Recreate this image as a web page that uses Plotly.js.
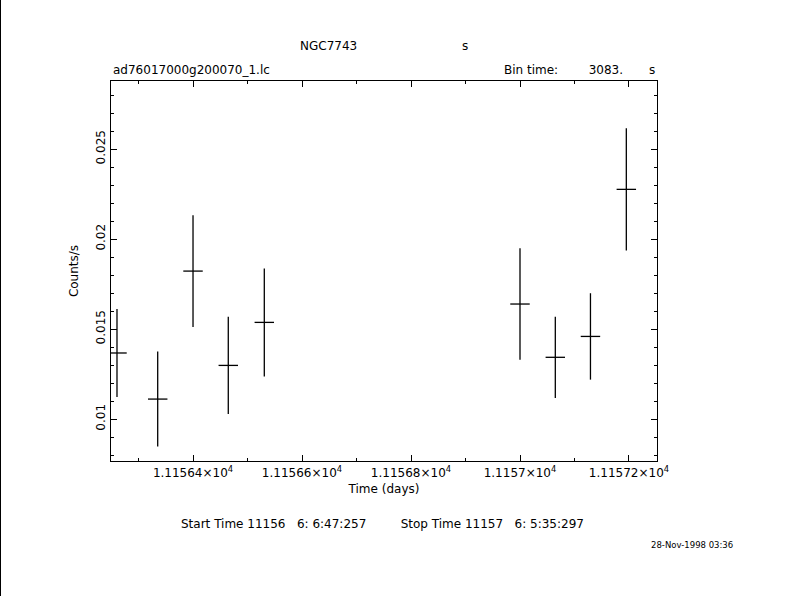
<!DOCTYPE html>
<html>
<head>
<meta charset="utf-8">
<script src="https://cdn.plot.ly/plotly-3.0.1.min.js"></script>
<style>
  html, body { margin: 0; padding: 0; background: #fff; }
  #wrap { position: relative; width: 790px; height: 596px; }
  #chart { width: 790px; height: 596px; }
  #edge { position: absolute; left: 0; top: 0; width: 1px; height: 596px; background: #000; }
</style>
</head>
<body>
<div id="wrap"><div id="chart"></div><div id="edge"></div></div>
<script>
// Light curve values (time in days, rate in counts/s)
const timeDays = [11156.2605, 11156.3352, 11156.4000, 11156.4647, 11156.5308, 11157.0000, 11157.0648, 11157.1293, 11157.1951];
const rate     = [0.01367, 0.01111, 0.01822, 0.01298, 0.01537, 0.01639, 0.01343, 0.01459, 0.02276];
const rateErr  = [0.00245, 0.00264, 0.00310, 0.00270, 0.00300, 0.00310, 0.00226, 0.00240, 0.00340];
const binTimeSec = 3083;
const timeHalfBin = binTimeSec / 86400 / 2;

const xTickVals = [11156.4, 11156.6, 11156.8, 11157.0, 11157.2];
const xTickText = ['1.11564×10<sup>4</sup>', '1.11566×10<sup>4</sup>', '1.11568×10<sup>4</sup>', '1.1157×10<sup>4</sup>', '1.11572×10<sup>4</sup>'];
const yTickVals = [0.01, 0.015, 0.02, 0.025];
const yTickText = ['0.01', '0.015', '0.02', '0.025'];

const font = { family: 'DejaVu Sans, Liberation Sans, sans-serif', size: 12, color: '#000' };
const sp = n => '&nbsp;'.repeat(n);

const trace = {
  x: timeDays,
  y: rate,
  type: 'scatter',
  mode: 'markers',
  marker: { size: 0.1, color: '#000' },
  error_y: { type: 'data', array: rateErr, visible: true, color: '#000', thickness: 1.3, width: 0 },
  error_x: { type: 'constant', value: timeHalfBin, visible: true, color: '#000', thickness: 1.3, width: 0 },
  hoverinfo: 'skip'
};

const axisCommon = {
  showgrid: false, zeroline: false, showline: true, linecolor: '#000', linewidth: 1.3,
  mirror: 'allticks', ticks: 'inside', ticklen: 6, tickwidth: 1, tickcolor: '#000',
  tickfont: font
};

const layout = {
  width: 790, height: 596,
  margin: { l: 111, r: 133, t: 81, b: 135 },
  paper_bgcolor: '#fff', plot_bgcolor: '#fff',
  showlegend: false,
  font: font,
  xaxis: Object.assign({}, axisCommon, {
    range: [11156.2495, 11157.2514],
    tickmode: 'array', tickvals: xTickVals, ticktext: xTickText,
    minor: { ticks: 'inside', dtick: 0.1, tick0: 11156.4, ticklen: 3, tickcolor: '#000', tickwidth: 1 },
    title: { text: 'Time (days)', font: font, standoff: 6 }
  }),
  yaxis: Object.assign({}, axisCommon, {
    range: [0.00767, 0.02878],
    tickmode: 'array', tickvals: yTickVals, ticktext: yTickText, tickangle: -90,
    minor: { ticks: 'inside', dtick: 0.001, tick0: 0.01, ticklen: 3, tickcolor: '#000', tickwidth: 1 },
    title: { text: 'Counts/s', font: font, standoff: 12 }
  }),
  annotations: [
    { xref: 'paper', yref: 'paper', x: 0.398, y: 1, yshift: 26, xanchor: 'center', yanchor: 'bottom', text: 'NGC7743', showarrow: false, font: font },
    { xref: 'paper', yref: 'paper', x: 0.648, y: 1, yshift: 26, xanchor: 'center', yanchor: 'bottom', text: 's', showarrow: false, font: font },
    { xref: 'paper', yref: 'paper', x: 0, y: 1, yshift: 2, xanchor: 'left', yanchor: 'bottom', text: 'ad76017000g200070_1.lc', showarrow: false, font: font },
    { xref: 'paper', yref: 'paper', x: 0.941, y: 1, yshift: 2, xanchor: 'right', yanchor: 'bottom', text: 'Bin time:' + sp(8) + binTimeSec + '.', showarrow: false, font: font },
    { xref: 'paper', yref: 'paper', x: 0.991, y: 1, yshift: 2, xanchor: 'center', yanchor: 'bottom', text: 's', showarrow: false, font: font },
    { xref: 'paper', yref: 'paper', x: 0, y: 0, xshift: 68, yshift: -63, xanchor: 'left', yanchor: 'middle', text: 'Start Time 11156' + sp(3) + '6:' + sp(1) + '6:47:257' + sp(9) + 'Stop Time 11157' + sp(3) + '6:' + sp(1) + '5:35:297', showarrow: false, font: font },
    { xref: 'paper', yref: 'paper', x: 1.064, y: 0, yshift: -84, xanchor: 'center', yanchor: 'middle', text: '28-Nov-1998 03:36', showarrow: false, font: { family: font.family, size: 8.5, color: '#000' } }
  ]
};

Plotly.newPlot('chart', [trace], layout, { staticPlot: true, displayModeBar: false });
</script>
</body>
</html>
